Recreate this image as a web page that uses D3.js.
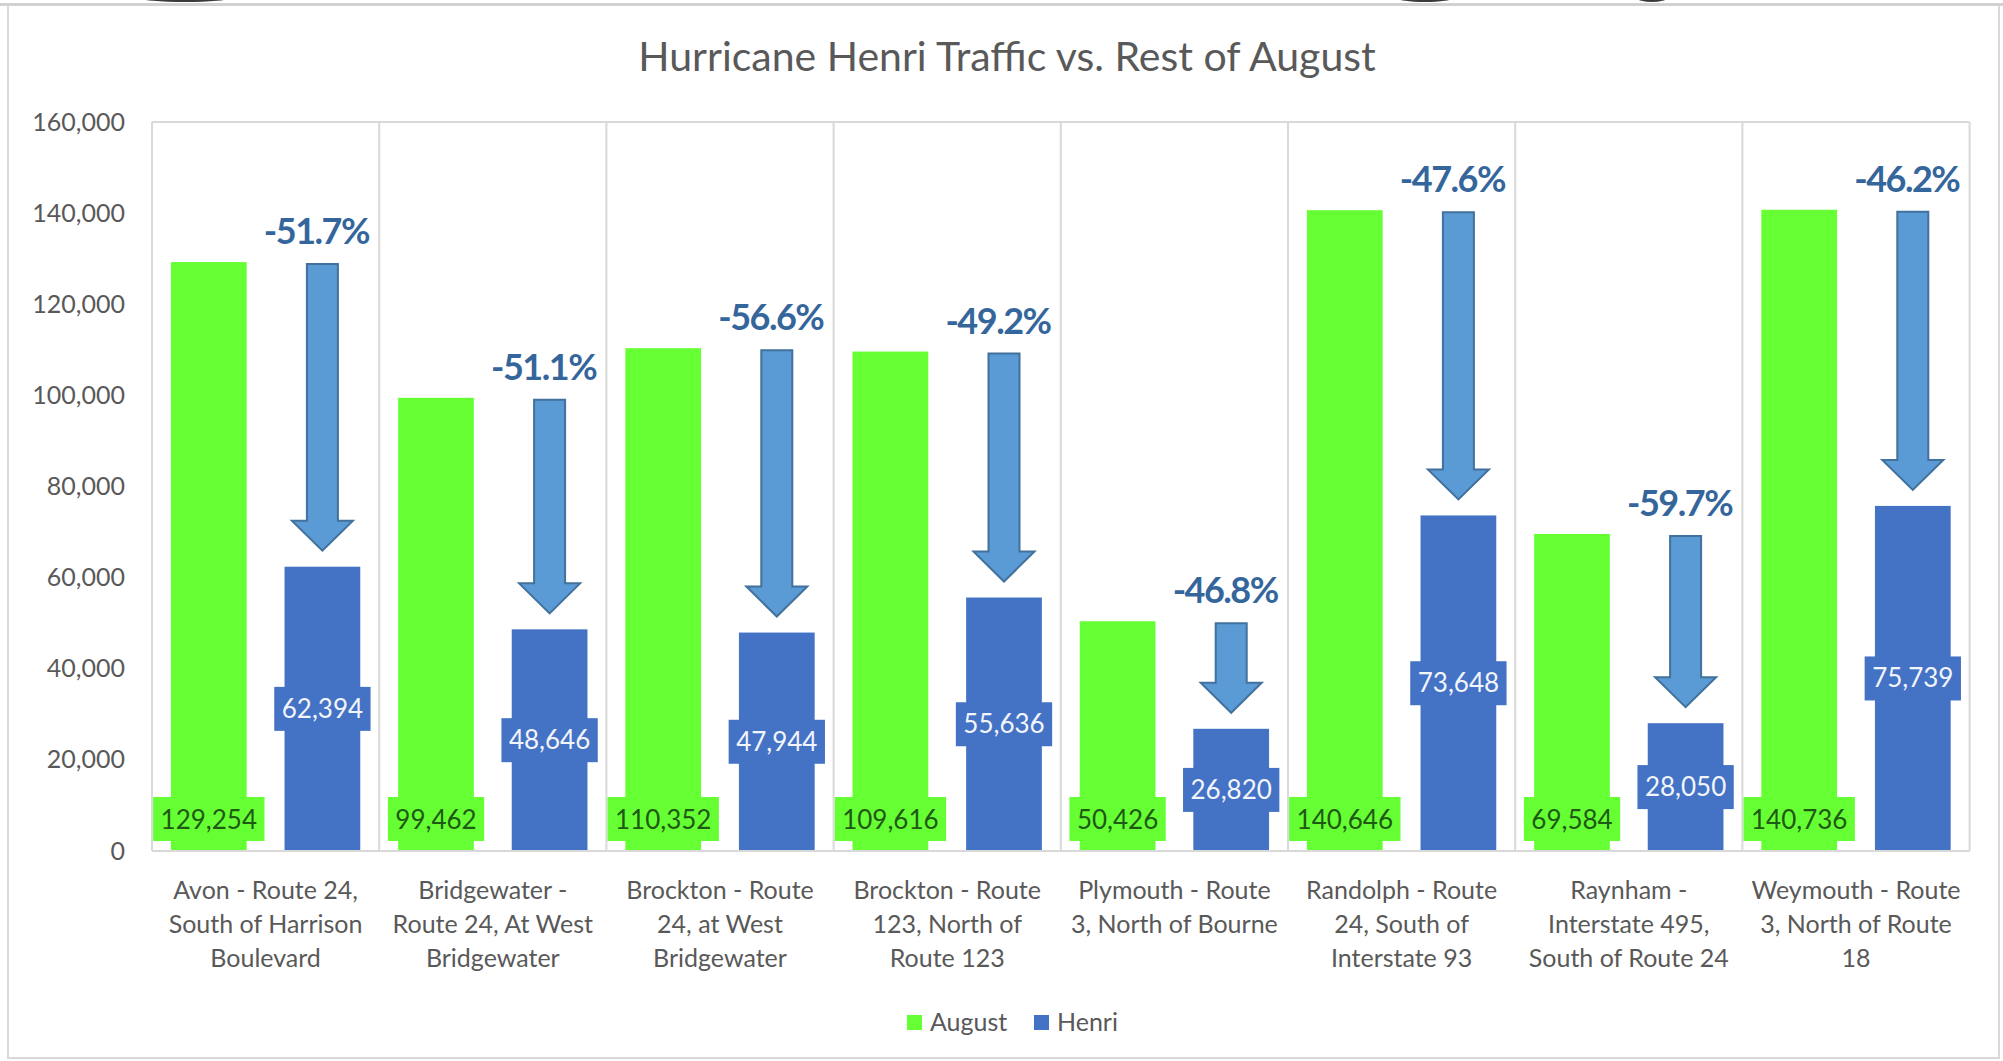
<!DOCTYPE html>
<html>
<head>
<meta charset="utf-8">
<script src="https://cdn.jsdelivr.net/npm/d3@7"></script>
<style>
  html, body { margin: 0; padding: 0; background: #ffffff; }
  svg { display: block; }
  text { font-family: Lato, "Open Sans", sans-serif; }
</style>
</head>
<body>
<svg id="chart" width="2003" height="1061"></svg>
<script>
// ---------------- data ----------------
const title = "Hurricane Henri Traffic vs. Rest of August";
const categories = [
  "Avon - Route 24, South of Harrison Boulevard",
  "Bridgewater - Route 24, At West Bridgewater",
  "Brockton - Route 24, at West Bridgewater",
  "Brockton - Route 123, North of Route 123",
  "Plymouth - Route 3, North of Bourne",
  "Randolph - Route 24, South of Interstate 93",
  "Raynham - Interstate 495, South of Route 24",
  "Weymouth - Route 3, North of Route 18"
];
const categoryLines = [
  ["Avon - Route 24,", "South of Harrison", "Boulevard"],
  ["Bridgewater -", "Route 24, At West", "Bridgewater"],
  ["Brockton - Route", "24, at West", "Bridgewater"],
  ["Brockton - Route", "123, North of", "Route 123"],
  ["Plymouth - Route", "3, North of Bourne"],
  ["Randolph - Route", "24, South of", "Interstate 93"],
  ["Raynham -", "Interstate 495,", "South of Route 24"],
  ["Weymouth - Route", "3, North of Route", "18"]
];
const seriesNames = ["August", "Henri"];
const augustValues = [129254, 99462, 110352, 109616, 50426, 140646, 69584, 140736];
const henriValues  = [62394, 48646, 47944, 55636, 26820, 73648, 28050, 75739];
const pctChange = ["-51.7%", "-51.1%", "-56.6%", "-49.2%", "-46.8%", "-47.6%", "-59.7%", "-46.2%"];
const yTicks = [0, 20000, 40000, 60000, 80000, 100000, 120000, 140000, 160000];

// ---------------- setup ----------------
const W = 2003, H = 1061;
const colors = { August: "#66FF33", Henri: "#4472C4" };
const svg = d3.select("#chart");

const plot = { left: 152, right: 1969.6, top: 122, bottom: 851 };

const x0 = d3.scaleBand().domain(categories).range([plot.left, plot.right]).paddingInner(0).paddingOuter(0);
const x1 = d3.scaleBand().domain(seriesNames).range([0, x0.bandwidth()]).paddingInner(1/3).paddingOuter(1/6);
const y = d3.scaleLinear().domain([0, 160000]).range([plot.bottom, plot.top]);

// background / chart frame
svg.append("rect").attr("x", 0).attr("y", 0).attr("width", W).attr("height", H).attr("fill", "#ffffff");
svg.append("rect").attr("x", 8).attr("y", 5).attr("width", 1991).attr("height", 1053)
  .attr("fill", "#ffffff").attr("stroke", "#d9d9d9").attr("stroke-width", 2);
svg.append("line").attr("x1", 0).attr("x2", W).attr("y1", 4.5).attr("y2", 4.5)
  .attr("stroke", "#d2d2d2").attr("stroke-width", 3);
// cut-off dark shapes at very top edge
[[185, 45], [1425, 28], [1652, 15]].forEach(([cx, rx]) => {
  svg.append("ellipse").attr("cx", cx).attr("cy", -2).attr("rx", rx).attr("ry", 4)
    .attr("fill", "#3a3a3a");
});

// title
svg.append("text").attr("x", 1007).attr("y", 71).attr("text-anchor", "middle")
  .attr("font-size", 41).attr("fill", "#595959").text(title);

// plot frame: top line, category dividers
const frame = svg.append("g").attr("stroke", "#d9d9d9").attr("stroke-width", 2);
frame.append("line").attr("x1", plot.left).attr("x2", plot.right)
  .attr("y1", y(160000)).attr("y2", y(160000));
const bounds = categories.map(c => x0(c)).concat([x0(categories[categories.length - 1]) + x0.bandwidth()]);
frame.selectAll("line.div").data(bounds).join("line").attr("class", "div")
  .attr("x1", d => d).attr("x2", d => d).attr("y1", y(160000)).attr("y2", y(0));

// y axis
const yAxis = d3.axisLeft(y).tickValues(yTicks).tickSize(0).tickPadding(27)
  .tickFormat(d3.format(","));
const yg = svg.append("g").attr("transform", `translate(${plot.left},0)`).call(yAxis);
yg.select(".domain").remove();
yg.selectAll("text").attr("font-size", 25).attr("fill", "#595959")
  .attr("font-family", "Lato, sans-serif");

// bars
const rows = categories.map((c, i) => ({ cat: c, i, August: augustValues[i], Henri: henriValues[i] }));
const groups = svg.append("g").selectAll("g.cat").data(rows).join("g").attr("class", "cat")
  .attr("transform", d => `translate(${x0(d.cat)},0)`);
groups.selectAll("rect.bar").data(d => seriesNames.map(s => ({ s, v: d[s] }))).join("rect")
  .attr("class", "bar")
  .attr("x", d => x1(d.s)).attr("width", x1.bandwidth())
  .attr("y", d => y(d.v)).attr("height", d => y(0) - y(d.v))
  .attr("fill", d => colors[d.s]);

// x axis line
svg.append("line").attr("x1", plot.left).attr("x2", plot.right).attr("y1", y(0)).attr("y2", y(0))
  .attr("stroke", "#d9d9d9").attr("stroke-width", 2);

// data labels
const fmt = d3.format(",");
const labelG = svg.append("g");
rows.forEach(d => {
  // August: inside base
  const gx = x0(d.cat) + x1("August") + x1.bandwidth() / 2;
  const gt = labelG.append("text").attr("x", gx).attr("y", y(0) - 22).attr("text-anchor", "middle")
    .attr("font-size", 26).attr("fill", "#1f5a14").text(fmt(d.August));
  const gw = gt.node().getComputedTextLength() + 15;
  labelG.insert("rect", () => gt.node()).attr("x", gx - gw / 2).attr("y", y(0) - 54)
    .attr("width", gw).attr("height", 44).attr("fill", colors.August);
  // Henri: centered
  const hx = x0(d.cat) + x1("Henri") + x1.bandwidth() / 2;
  const hm = (y(d.Henri) + y(0)) / 2;
  const ht = labelG.append("text").attr("x", hx).attr("y", hm + 9).attr("text-anchor", "middle")
    .attr("font-size", 26).attr("fill", "#f2f5fb").text(fmt(d.Henri));
  const hw = ht.node().getComputedTextLength() + 15;
  labelG.insert("rect", () => ht.node()).attr("x", hx - hw / 2).attr("y", hm - 22)
    .attr("width", hw).attr("height", 44).attr("fill", colors.Henri);
});

// arrows + percentage labels
const arrowG = svg.append("g");
rows.forEach(d => {
  const cx = x0(d.cat) + x1("Henri") + x1.bandwidth() / 2;
  const y1 = y(d.August) + 2;
  const y2 = y(d.Henri) - 16;
  const sw = 15.5, hw = 30.5, hh = 30;
  const p = d3.path();
  p.moveTo(cx - sw, y1); p.lineTo(cx + sw, y1); p.lineTo(cx + sw, y2 - hh);
  p.lineTo(cx + hw, y2 - hh); p.lineTo(cx, y2); p.lineTo(cx - hw, y2 - hh);
  p.lineTo(cx - sw, y2 - hh); p.closePath();
  arrowG.append("path").attr("d", p.toString()).attr("fill", "#5B9BD5")
    .attr("stroke", "#41719C").attr("stroke-width", 2).attr("stroke-linejoin", "miter");
  arrowG.append("text").attr("x", cx - 6).attr("y", y1 - 20).attr("text-anchor", "middle")
    .attr("font-size", 36).attr("font-weight", 700).attr("letter-spacing", "-1.5px")
    .attr("fill", "#34669C").text(pctChange[d.i]);
});

// category labels
const catG = svg.append("g");
rows.forEach(d => {
  const cx = x0(d.cat) + x0.bandwidth() / 2;
  const t = catG.append("text").attr("text-anchor", "middle").attr("font-size", 25).attr("fill", "#595959");
  categoryLines[d.i].forEach((ln, k) => {
    t.append("tspan").attr("x", cx).attr("y", 899 + k * 34).text(ln);
  });
});

// legend
const legend = svg.append("g");
const legendItems = [{ s: "August", x: 907 }, { s: "Henri", x: 1034 }];
legendItems.forEach(it => {
  legend.append("rect").attr("x", it.x).attr("y", 1015).attr("width", 15).attr("height", 15)
    .attr("fill", colors[it.s]);
  legend.append("text").attr("x", it.x + 23).attr("y", 1031).attr("font-size", 25)
    .attr("fill", "#595959").text(it.s);
});
</script>
</body>
</html>
